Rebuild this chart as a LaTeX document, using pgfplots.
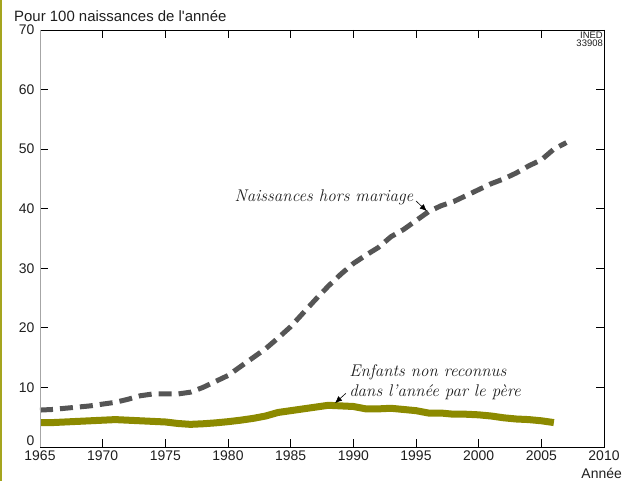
\documentclass[border=0pt]{standalone}
\usepackage{pgfplots}
\pgfplotsset{compat=1.18}
\usetikzlibrary{arrows.meta}
\usepackage{fontspec}
\newfontfamily\lsans{Liberation Sans}
\definecolor{olivec}{RGB}{140,138,0}
\definecolor{barc}{RGB}{165,165,30}
\definecolor{dashc}{RGB}{85,85,85}
\definecolor{txtc}{RGB}{30,30,30}
\begin{document}
\begin{tikzpicture}
\fill[barc] (0,0) rectangle (2bp,481bp);
\begin{axis}[
  at={(40bp,34bp)}, anchor=south west,
  scale only axis, width=564bp, height=417bp,
  xmin=1965, xmax=2010, ymin=0, ymax=70,
  xtick={1965,1970,...,2010}, ytick={10,20,...,70},
  extra y ticks={0},
  extra y tick style={yticklabel style={yshift=6bp}},
  tick align=inside, major tick length=8bp,
  tick style={black, line width=0.8pt},
  axis line style={black, line width=0.8pt},
  /pgf/number format/1000 sep={},
  /pgf/number format/assume math mode=true,
  ticklabel style={font=\lsans\fontsize{14}{16}\selectfont, text=txtc},
  yticklabel style={xshift=-2bp},
  clip=false,
]
\addplot[dashc, line width=5bp, dash pattern=on 13bp off 7bp] coordinates {
(1965,6.2) (1966,6.3) (1967,6.5) (1968,6.7) (1969,6.9) (1970,7.2) (1971,7.5)
(1972,8.0) (1973,8.6) (1974,8.9) (1975,8.9) (1976,8.9) (1977,9.2) (1978,10.0)
(1979,11.0) (1980,12.0) (1981,13.5) (1982,15.0) (1983,16.5) (1984,18.3)
(1985,20.2) (1986,22.5) (1987,24.8) (1988,27.0) (1989,29.0) (1990,30.8)
(1991,32.2) (1992,33.5) (1993,35.3) (1994,36.5) (1995,38.0) (1996,39.5)
(1997,40.5) (1998,41.2) (1999,42.2) (2000,43.2) (2001,44.2) (2002,45.0)
(2003,46.0) (2004,47.2) (2005,48.2) (2006,50.0) (2007,51.1)
};
\addplot[olivec, line width=7bp, line join=round] coordinates {
(1965,4.1) (1966,4.1) (1967,4.2) (1968,4.3) (1969,4.4) (1970,4.5) (1971,4.6)
(1972,4.5) (1973,4.4) (1974,4.3) (1975,4.2) (1976,3.95) (1977,3.8) (1978,3.9)
(1979,4.05) (1980,4.25) (1981,4.5) (1982,4.8) (1983,5.2) (1984,5.8) (1985,6.1)
(1986,6.4) (1987,6.7) (1988,7.0) (1989,6.9) (1990,6.8) (1991,6.4) (1992,6.4)
(1993,6.5) (1994,6.3) (1995,6.1) (1996,5.7) (1997,5.7) (1998,5.5) (1999,5.5)
(2000,5.4) (2001,5.2) (2002,4.9) (2003,4.7) (2004,4.6) (2005,4.4) (2006,4.1)
};
\draw[gray!70, line width=0.8pt] (rel axis cs:0,0) -- (rel axis cs:0,1);
\node[anchor=base east, inner sep=0, text=txtc, font=\itshape\fontsize{17}{20}\selectfont] at (axis cs:1994.8,41.2) {Naissances hors mariage};
\draw[-{Latex[length=7bp,width=6bp]}, line width=0.6bp, black] (axis cs:1995.0,41.3) -- (axis cs:1995.86,39.6);
\node[anchor=base west, inner sep=0, text=txtc, font=\itshape\fontsize{17}{20}\selectfont] at (axis cs:1989.66,11.8) {Enfants non reconnus};
\node[anchor=base west, inner sep=0, text=txtc, font=\itshape\fontsize{17}{20}\selectfont] at (axis cs:1989.66,8.44) {dans l'ann\'ee par le p\`ere};
\draw[-{Latex[length=7bp,width=6bp]}, line width=0.6bp, black] (axis cs:1989.4,9.0) -- (axis cs:1988.54,7.38);
\end{axis}
\node[anchor=base west, inner sep=0, text=txtc, font=\lsans\fontsize{15}{17}\selectfont] at (14bp,459.5bp) {Pour 100 naissances de l'année};
\node[anchor=base east, inner sep=0, text=txtc, font=\lsans\fontsize{14}{16}\selectfont] at (622bp,2.5bp) {Année};
\node[anchor=north east, inner sep=0, align=right, text=txtc, font=\lsans\fontsize{9.5}{8}\selectfont] at (603bp,449.5bp) {INED\\33908};
\pgfresetboundingbox
\path[use as bounding box] (0,0) rectangle (631bp,481bp);
\end{tikzpicture}
\end{document}
